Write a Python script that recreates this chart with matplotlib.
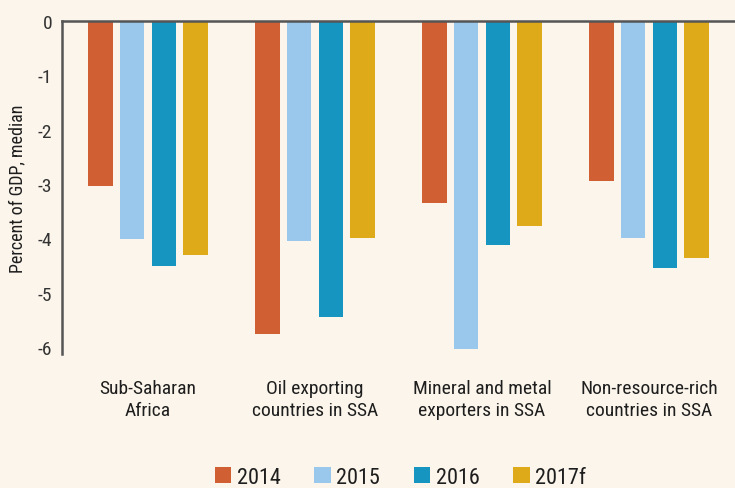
import matplotlib.pyplot as plt
import numpy as np

plt.rcParams['font.family'] = ['Roboto Condensed', 'DejaVu Sans']
plt.rcParams['axes.unicode_minus'] = False

categories = ['Sub-Saharan\nAfrica', 'Oil exporting\ncountries in SSA',
              'Mineral and metal\nexporters in SSA', 'Non-resource-rich\ncountries in SSA']
years = ['2014', '2015', '2016', '2017f']
v2014 = [-3.04, -5.76, -3.35, -2.95]
v2015 = [-4.01, -4.05, -6.04, -4.00]
v2016 = [-4.51, -5.45, -4.13, -4.55]
v2017 = [-4.31, -4.00, -3.78, -4.36]
colors = ['#D06033', '#99C8EC', '#1795C1', '#DFAA1A']

bg = '#FBF5EB'
fig = plt.figure(figsize=(7.35, 4.89), dpi=100, facecolor=bg)
ax = fig.add_axes([62 / 735, 1 - 355 / 489, 1 - 62 / 735, 333 / 489])
ax.set_facecolor(bg)

x = np.arange(len(categories))
step = 0.19
for i, (vals, yr) in enumerate(zip([v2014, v2015, v2016, v2017], years)):
    ax.bar(x + (i - 1.5) * step, vals, width=0.145, color=colors[i], label=yr)

ax.set_xlim(-0.515, 3.515)
ax.set_ylim(-6.13, 0)
ax.set_yticks(np.arange(-6, 1, 1))
ax.set_yticklabels([str(v) for v in range(-6, 1)])
ax.set_xticks(x)
ax.set_xticklabels(categories, fontsize=14, color='#1e1e1e', linespacing=1.3)
ax.tick_params(axis='x', length=0, pad=18)
ax.tick_params(axis='y', length=0, pad=7, labelsize=14, labelcolor='#333333')

for s in ['right', 'bottom']:
    ax.spines[s].set_visible(False)
for s in ['left', 'top']:
    ax.spines[s].set_color('#555555')
    ax.spines[s].set_linewidth(1.8)

ax.set_ylabel('Percent of GDP, median', fontsize=13, color='#1e1e1e', labelpad=8)

fig.legend(loc='lower center', bbox_to_anchor=(0.545, -0.04), ncol=4, frameon=False,
           fontsize=16, handlelength=0.75, handleheight=0.75, handletextpad=0.25,
           columnspacing=1.5, labelcolor='#1e1e1e')

fig.savefig('out.png', dpi=100, facecolor=bg)
